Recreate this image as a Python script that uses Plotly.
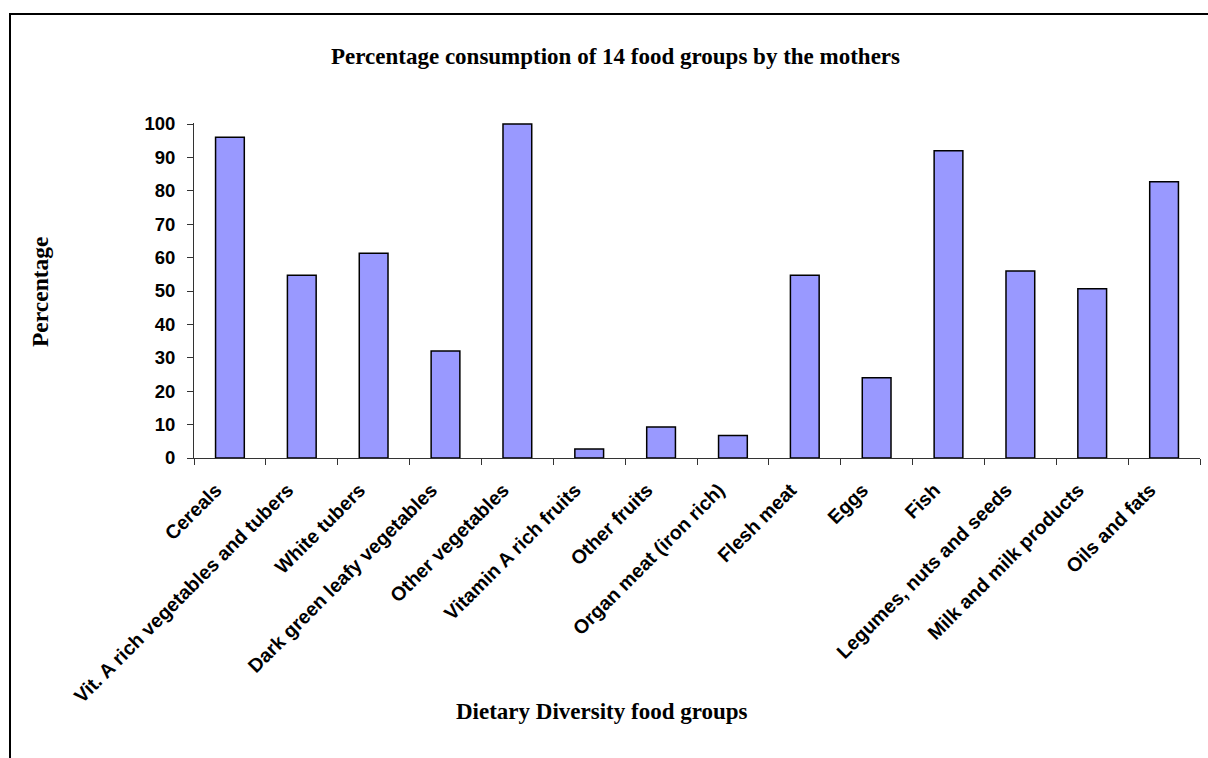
import plotly.graph_objects as go

categories = ["Cereals", "Vit. A rich vegetables and tubers", "White tubers",
              "Dark green leafy vegetables", "Other vegetables", "Vitamin A rich fruits",
              "Other fruits", "Organ meat (iron rich)", "Flesh meat", "Eggs", "Fish",
              "Legumes, nuts and seeds", "Milk and milk products", "Oils and fats"]
percentages = [96.0, 54.7, 61.3, 32.0, 100.0, 2.7, 9.3, 6.7, 54.7, 24.0, 92.0, 56.0, 50.7, 82.7]
y_ticks = [0, 10, 20, 30, 40, 50, 60, 70, 80, 90, 100]

W, H = 1208, 758
L, R, T, B = 194, 8, 123, 300
pw, ph = W - L - R, H - T - B

def px_x(x):
    return (x - L) / pw

def px_y(y):
    return (H - B - y) / ph

fig = go.Figure(go.Bar(
    x=categories, y=percentages,
    marker=dict(color="#9999FF", line=dict(color="black", width=1.5)),
))

fig.update_layout(
    width=W, height=H,
    margin=dict(l=L, r=R, t=T, b=B),
    plot_bgcolor="white", paper_bgcolor="white",
    bargap=0.6, showlegend=False,
    font=dict(family="Liberation Sans, Arial", color="black"),
    xaxis=dict(
        tickangle=-45, tickson="boundaries", ticks="outside", ticklen=6,
        tickcolor="#333333", showline=True, linecolor="#333333", linewidth=1,
        tickfont=dict(family="Liberation Sans, Arial", size=19.5, color="black", weight="bold"),
        ticklabelstandoff=12, ticklabelshift=-14,
        range=[-0.5, 13.5], showgrid=False,
    ),
    yaxis=dict(
        range=[0, 100.3], tickvals=y_ticks, ticks="outside", ticklen=6,
        tickcolor="#333333", showline=True, linecolor="#333333", linewidth=1,
        showgrid=False, zeroline=False, ticklabelstandoff=8,
        tickfont=dict(family="Liberation Sans, Arial", size=18.5, color="black", weight="bold"),
    ),
    annotations=[
        dict(text="<b>Percentage consumption of 14 food groups by the mothers</b>",
             xref="paper", yref="paper", x=px_x(615), y=px_y(56),
             showarrow=False, xanchor="center", yanchor="middle",
             font=dict(family="Liberation Serif, Times New Roman", size=23, color="black")),
        dict(text="<b>Dietary Diversity food groups</b>",
             xref="paper", yref="paper", x=px_x(602), y=px_y(711),
             showarrow=False, xanchor="center", yanchor="middle",
             font=dict(family="Liberation Serif, Times New Roman", size=23, color="black")),
        dict(text="<b>Percentage</b>", textangle=-90,
             xref="paper", yref="paper", x=px_x(40), y=px_y(292),
             showarrow=False, xanchor="center", yanchor="middle",
             font=dict(family="Liberation Serif, Times New Roman", size=23.5, color="black")),
    ],
    shapes=[
        dict(type="rect", xref="paper", yref="paper",
             x0=px_x(10), x1=px_x(1215), y0=px_y(770), y1=px_y(14),
             line=dict(color="black", width=2), fillcolor="rgba(0,0,0,0)", layer="below"),
    ],
)

fig.write_html("out.html")
